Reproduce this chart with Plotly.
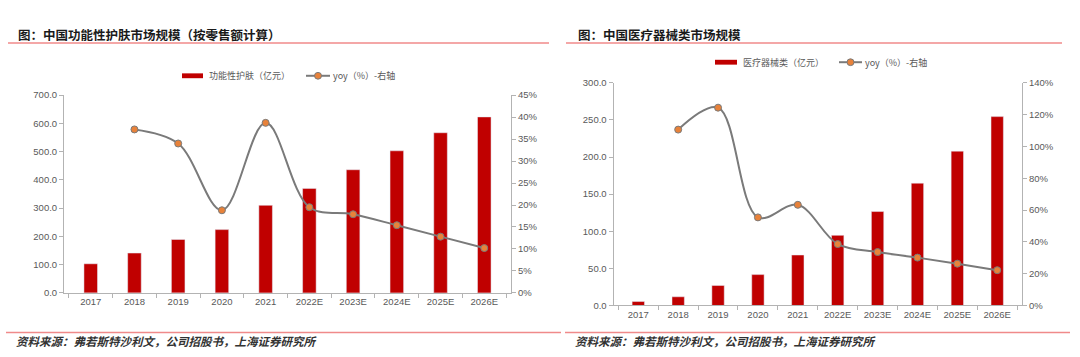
import plotly.graph_objects as go

# ---------------- data ----------------
years = ["2017", "2018", "2019", "2020", "2021", "2022E", "2023E", "2024E", "2025E", "2026E"]

skin_title = "图：中国功能性护肤市场规模（按零售额计算）"
skin_bar_name = "功能性护肤（亿元）"
skin_size = [103, 141, 189, 224, 310, 370, 436, 503, 567, 623]
skin_yoy = [None, 37.2, 34.0, 18.8, 38.7, 19.5, 17.9, 15.4, 12.8, 10.2]

med_title = "图：中国医疗器械类市场规模"
med_bar_name = "医疗器械类（亿元）"
med_size = [5.3, 11.7, 26.9, 41.6, 68.0, 94.5, 126.6, 164.8, 208.0, 254.5]
med_yoy = [None, 110.6, 124.4, 55.4, 63.3, 38.6, 33.6, 30.1, 26.3, 22.2]

yoy_name = "yoy（%）-右轴"
source = "资料来源：弗若斯特沙利文，公司招股书，上海证券研究所"

# ---------------- style ----------------
W, H = 1080, 357
BAR = "#c00000"
LINE = "#7a7a7a"
MARK = "#e8823a"
AX = "#b3b3b3"
TXT = "#595959"
RED_RULE = "#f08a8a"
TICKFONT = dict(family="Liberation Sans, Arial, sans-serif", size=9.5, color=TXT)
CJK = "Noto Sans CJK SC"


def px(x):
    return x / W


def py(y):
    return 1 - y / H


fig = go.Figure()

fig.add_trace(go.Bar(x=years, y=skin_size, name=skin_bar_name, marker_color=BAR,
                     xaxis="x", yaxis="y"))
fig.add_trace(go.Scatter(x=years, y=skin_yoy, name=yoy_name, mode="lines+markers",
                         line=dict(color=LINE, width=2, shape="spline", smoothing=1),
                         marker=dict(color=MARK, size=7, line=dict(color=LINE, width=1)),
                         xaxis="x", yaxis="y2"))
fig.add_trace(go.Bar(x=years, y=med_size, name=med_bar_name, marker_color=BAR,
                     xaxis="x2", yaxis="y3"))
fig.add_trace(go.Scatter(x=years, y=med_yoy, name=yoy_name, mode="lines+markers",
                         line=dict(color=LINE, width=2, shape="spline", smoothing=1),
                         marker=dict(color=MARK, size=7, line=dict(color=LINE, width=1)),
                         xaxis="x2", yaxis="y4"))

xcommon = dict(type="category", showline=True, linecolor=AX, linewidth=1,
               ticks="outside", tickson="boundaries", ticklen=4, tickcolor=AX,
               tickfont=TICKFONT, showgrid=False, zeroline=False, fixedrange=True)
ycommon = dict(showline=True, linecolor=AX, linewidth=1, ticks="outside", ticklen=4,
               tickcolor=AX, tickfont=TICKFONT, showgrid=False, zeroline=False)

L_dom_x = [px(64), px(511)]
L_dom_y = [py(296), py(92)]
R_dom_x = [px(613.5), px(1022)]
R_dom_y = [py(309), py(79.3)]

fig.update_layout(
    width=W, height=H, autosize=False,
    margin=dict(l=0, r=0, t=0, b=0),
    paper_bgcolor="white", plot_bgcolor="white",
    showlegend=False, bargap=0.69, hovermode=False,
    xaxis=dict(domain=L_dom_x, anchor="y", **xcommon),
    yaxis=dict(domain=L_dom_y, anchor="x", range=[0, 700], dtick=100,
               tickformat=".1f", **ycommon),
    yaxis2=dict(overlaying="y", anchor="x", side="right", range=[0, 45], dtick=5,
                ticksuffix="%", **ycommon),
    xaxis2=dict(domain=R_dom_x, anchor="y3", **xcommon),
    yaxis3=dict(domain=R_dom_y, anchor="x2", range=[0, 300], dtick=50,
                tickformat=".1f", **ycommon),
    yaxis4=dict(overlaying="y3", anchor="x2", side="right", range=[0, 140], dtick=20,
                ticksuffix="%", **ycommon),
)

shapes = []
ann = []

# title rules and bottom rules
for (x0, x1, y) in [(8, 549, 38.3), (566, 1062, 38.3), (6, 561, 337), (565, 1070, 337)]:
    shapes.append(dict(type="line", xref="paper", yref="paper", x0=px(x0), x1=px(x1),
                       y0=py(y), y1=py(y), line=dict(color=RED_RULE, width=1.5)))

# titles
for x, t in [(16, skin_title), (576, med_title)]:
    ann.append(dict(text="<b>" + t + "</b>", x=px(x), y=py(29.5), xref="paper", yref="paper",
                    xanchor="left", yanchor="middle", showarrow=False,
                    font=dict(family=CJK, size=12.5, color="#1a1a1a")))

# sources
for x in [14, 573]:
    ann.append(dict(text="<b><i>" + source + "</i></b>", x=px(x), y=py(346), xref="paper",
                    yref="paper", xanchor="left", yanchor="middle", showarrow=False,
                    font=dict(family=CJK, size=11.5, color="#333333")))


# custom legends
def legend(y, bx0, bx1, bname, lx0, lx1, tx1):
    shapes.append(dict(type="rect", xref="paper", yref="paper", x0=px(bx0), x1=px(bx1),
                       y0=py(y + 2.5), y1=py(y - 2.5), fillcolor=BAR, line=dict(width=0)))
    ann.append(dict(text=bname, x=px(bx1 + 4), y=py(y), xref="paper", yref="paper",
                    xanchor="left", yanchor="middle", showarrow=False,
                    font=dict(family=CJK, size=9, color=TXT)))
    shapes.append(dict(type="line", xref="paper", yref="paper", x0=px(lx0), x1=px(lx1),
                       y0=py(y), y1=py(y), line=dict(color=LINE, width=2)))
    mx = (lx0 + lx1) / 2
    shapes.append(dict(type="circle", xref="paper", yref="paper", x0=px(mx - 3.5),
                       x1=px(mx + 3.5), y0=py(y + 3.5), y1=py(y - 3.5), fillcolor=MARK,
                       line=dict(color=LINE, width=1)))
    ann.append(dict(text=yoy_name, x=px(tx1), y=py(y), xref="paper", yref="paper",
                    xanchor="left", yanchor="middle", showarrow=False,
                    font=dict(family=CJK, size=9, color=TXT)))


legend(72, 182, 203, skin_bar_name, 306, 330, 331)
legend(58, 715, 737, med_bar_name, 839, 862, 863)

fig.update_layout(shapes=shapes, annotations=ann)

post = (
    "var d=document.documentElement,b=document.body;"
    "d.style.margin='0';d.style.padding='0';d.style.overflow='hidden';"
    "b.style.margin='0';b.style.padding='0';b.style.overflow='hidden';"
)
fig.write_html("out.html", config={"displayModeBar": False, "staticPlot": True},
               post_script=post)
